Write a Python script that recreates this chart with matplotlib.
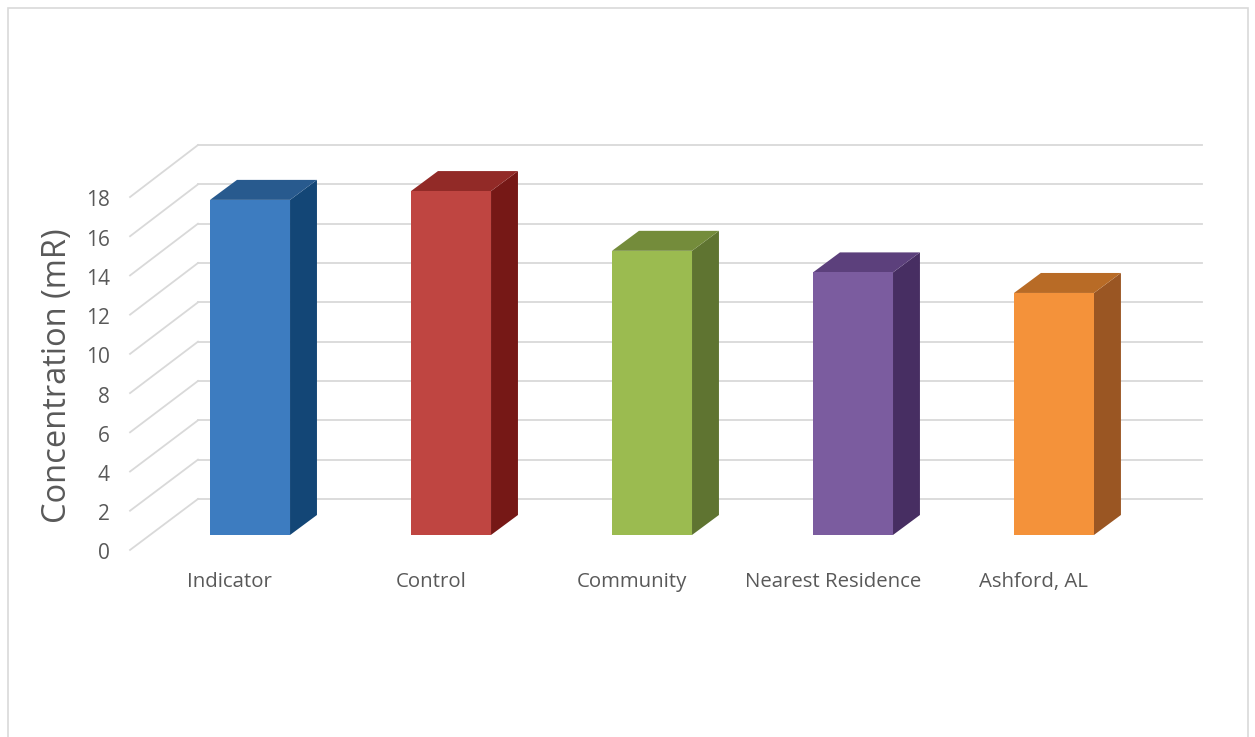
import matplotlib.pyplot as plt
from matplotlib.patches import Polygon, Rectangle

# Data
categories = ['Indicator', 'Control', 'Community', 'Nearest Residence', 'Ashford, AL']
values = [17.1, 17.55, 14.5, 13.4, 12.35]
y_ticks = [0, 2, 4, 6, 8, 10, 12, 14, 16, 18]

front_colors = ['#3D7CC0', '#BF4541', '#9BBB50', '#7B5C9F', '#F4923A']
top_colors = ['#285A8E', '#922A27', '#748C3B', '#5C407C', '#B86B26']
side_colors = ['#134676', '#761816', '#5F7431', '#472E62', '#9A5623']

text_color = '#595959'
grid_color = '#D9D9D9'

# 3D look: offsets in data units (x = category step, y = value unit)
bar_half = 0.199
depth_dx = 0.134
depth_dy = 1.02
wall_front_x = -0.597
wall_back_x = -0.259
wall_right_x = 4.736
front_off = -0.765
back_off = 1.837

fig = plt.figure(figsize=(12.55, 7.37), dpi=100)
ax = fig.add_axes([0, 0, 1, 1])
ax.set_xlim(-1.244, 5.0)
ax.set_ylim(-10.31, 27.3)
ax.axis('off')

# Outer chart border
fig.patches.append(Rectangle((8 / 1255, -0.01), 1240 / 1255, 1 - 8 / 737 + 0.01,
                             transform=fig.transFigure, fill=False,
                             edgecolor=grid_color, linewidth=1.2))

# Back wall and side wall gridlines
for g in y_ticks:
    yb = back_off + g * 1.0034
    yf = front_off + g * 1.0006
    ax.plot([wall_back_x, wall_right_x], [yb, yb], color=grid_color, lw=1.3, zorder=1)
    ax.plot([wall_front_x, wall_back_x], [yf, yb], color=grid_color, lw=1.3, zorder=1)
    ax.text(-0.697, yf - 0.2, str(g), ha='right', va='center', fontsize=15,
            color=text_color, fontname='Open Sans')

# Bars
for i, v in enumerate(values):
    left = i - bar_half
    right = i + bar_half
    side = Polygon([(right, 0), (right + depth_dx, depth_dy),
                    (right + depth_dx, v + depth_dy), (right, v)],
                   closed=True, facecolor=side_colors[i], edgecolor='none', zorder=2)
    top = Polygon([(left, v), (right, v), (right + depth_dx, v + depth_dy),
                   (left + depth_dx, v + depth_dy)],
                  closed=True, facecolor=top_colors[i], edgecolor='none', zorder=2)
    ax.add_patch(side)
    ax.add_patch(top)
ax.bar(range(len(values)), values, width=2 * bar_half, color=front_colors, zorder=3)

# Category labels
for i, name in enumerate(categories):
    ax.text(i - 0.1, -2.4, name, ha='center', va='center', fontsize=14.7,
            color=text_color, fontname='Open Sans')

ax.text(-0.96, 8.11, 'Concentration (mR)', rotation=90, ha='center', va='center',
        fontsize=23.5, color=text_color, fontname='Open Sans')

plt.savefig('out.png', dpi=100)
